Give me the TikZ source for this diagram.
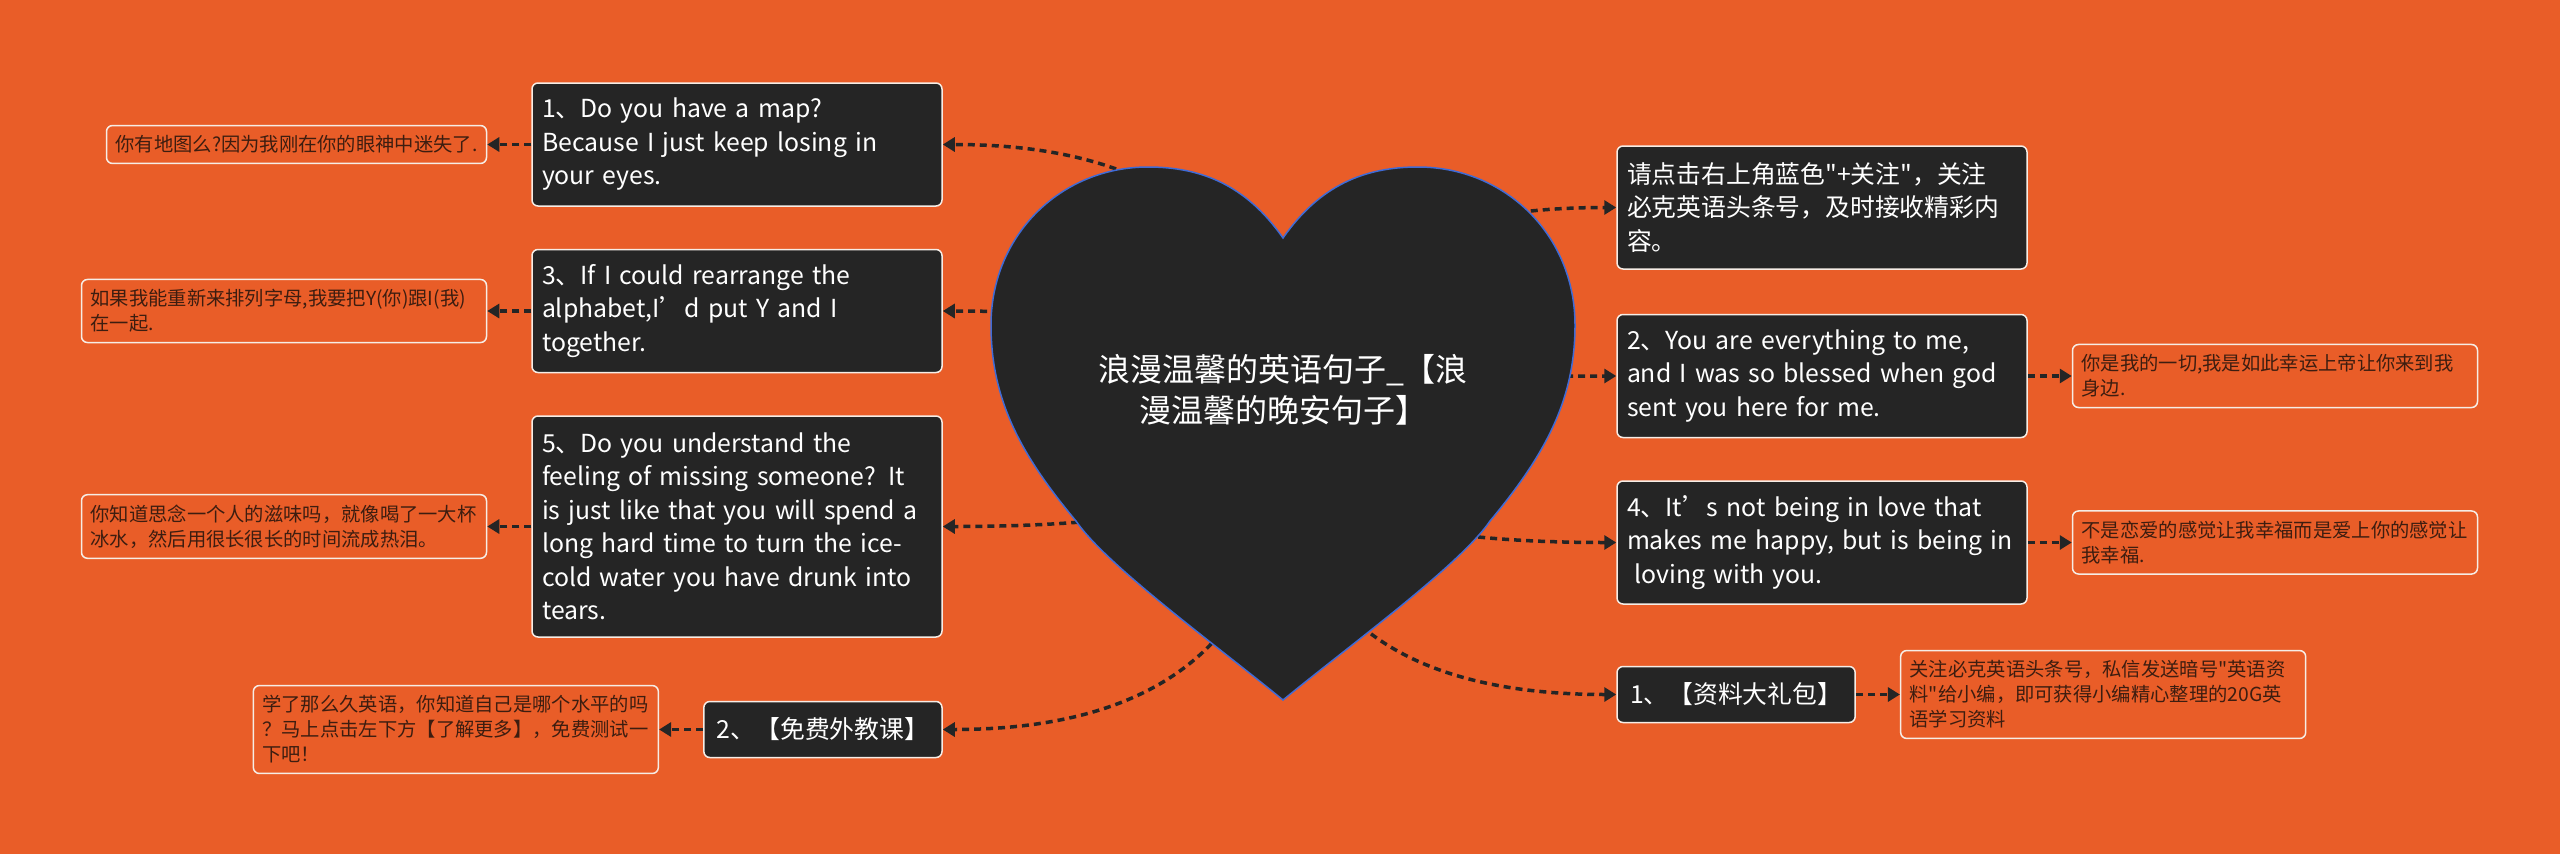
\documentclass[tikz,border=0pt]{standalone}
\usepackage{fontspec}
\setmainfont{Noto Sans CJK SC}
\usepackage{xcolor}
\definecolor{mindorange}{HTML}{E95D28}
\definecolor{mindink}{HTML}{252525}
\definecolor{mindrim}{HTML}{F6EDE6}
\definecolor{notebrown}{HTML}{3D1D10}
\definecolor{heartblue}{HTML}{3F6BD6}
\usetikzlibrary{positioning,arrows.meta,calc,backgrounds}

\begin{document}
\begin{tikzpicture}[
  x=1pt,y=-1pt,
  node distance=44pt,
  quote/.style ={rectangle,draw=mindrim,line width=1.5pt,rounded corners=6pt,
                 fill=mindink,text=white,text width=390pt,align=left,
                 inner xsep=10pt,inner ysep=8pt,minimum height=123pt,
                 font=\fontsize{24.8}{33.5}\selectfont},
  tag/.style   ={rectangle,draw=mindrim,line width=1.5pt,rounded corners=6pt,
                 fill=mindink,text=white,inner xsep=13pt,minimum height=56pt,
                 font=\fontsize{24.8}{33.5}\selectfont},
  note/.style  ={rectangle,draw=mindrim,line width=1.5pt,rounded corners=6pt,
                 fill=mindorange,text=notebrown,text width=387pt,align=left,
                 inner xsep=9pt,inner ysep=10pt,
                 font=\fontsize{19.3}{25}\selectfont},
  arr/.style   ={-{Triangle[length=12pt,width=14pt]},line width=3.5pt,
                 dash pattern=on 7pt off 5pt,mindink},
  branch/.style={to path={.. controls ($(\tikztostart)!2/3!(\tikztostart |- \tikztotarget)$)
                 and ($(\tikztotarget)!2/3!(\tikztostart |- \tikztotarget)$) .. (\tikztotarget)}}
]
\useasboundingbox (0,0) rectangle (2560,854);

\coordinate (hub) at (1283,433);
\node[text=white,align=center,font=\fontsize{32}{41}\selectfont] (title) at (1283,390)
  {浪漫温馨的英语句子\_【浪\\漫温馨的晚安句子】};

\node[quote] (q1) at (737,144.5) {1、Do you have a map?\\Because I just keep losing in\\your eyes.};
\node[quote,below=42pt of q1] (q3) {3、If I could rearrange the\\alphabet,I’d put Y and I\\together.};
\node[quote,below=42pt of q3,minimum height=221pt] (q5) {5、Do you understand the\\feeling of missing someone? It\\is just like that you will spend a\\long hard time to turn the ice-\\cold water you have drunk into\\tears.};
\node[tag,below left=63pt and 0pt of q5.south east] (free) {2、【免费外教课】};

\node[quote] (tip) at (1822,207.5) {请点击右上角蓝色\textquotedbl+关注\textquotedbl，关注\\必克英语头条号，及时接收精彩内\\容。};
\node[quote,below=44pt of tip] (q2) {2、You are everything to me,\\and I was so blessed when god\\sent you here for me.};
\node[quote,below=42pt of q2] (q4) {4、It’s not being in love that\\makes me happy, but is being in\\\hspace*{0.3em}loving with you.};
\node[tag,below right=61pt and 0pt of q4.south west] (gift) {1、【资料大礼包】};

\node[note,left=of q1,text width=362pt] (n1) {你有地图么?因为我刚在你的眼神中迷失了.};
\node[note,left=of q3] (n3) {如果我能重新来排列字母,我要把Y(你)跟I(我)\\在一起.};
\node[note,left=of q5] (n5) {你知道思念一个人的滋味吗，就像喝了一大杯\\冰水，然后用很长很长的时间流成热泪。};
\node[note,left=of free] (nfree) {学了那么久英语，你知道自己是哪个水平的吗\\？马上点击左下方【了解更多】，免费测试一\\下吧！};
\node[note,right=of q2] (n2) {你是我的一切,我是如此幸运上帝让你来到我\\身边.};
\node[note,right=of q4] (n4) {不是恋爱的感觉让我幸福而是爱上你的感觉让\\我幸福.};
\node[note,right=of gift] (ngift) {关注必克英语头条号，私信发送暗号\textquotedbl 英语资\\料\textquotedbl 给小编，即可获得小编精心整理的20G英\\语学习资料};

\draw[arr] (q1)   -- (n1);
\draw[arr] (q3)   -- (n3);
\draw[arr] (q5)   -- (n5);
\draw[arr] (free) -- (nfree);
\draw[arr] (q2)   -- (n2);
\draw[arr] (q4)   -- (n4);
\draw[arr] (gift) -- (ngift);

\begin{scope}[on background layer]
  \fill[mindorange] (0,0) rectangle (2560,854);
  \draw[arr] (hub) to[branch] (q1.east);
  \draw[arr] (hub) to[branch] (q3.east);
  \draw[arr] (hub) to[branch] (q5.east);
  \draw[arr] (hub) to[branch] (free.east);
  \draw[arr] (hub) to[branch] (tip.west);
  \draw[arr] (hub) to[branch] (q2.west);
  \draw[arr] (hub) to[branch] (q4.west);
  \draw[arr] (hub) to[branch] (gift.west);
  \draw[fill=mindink,draw=heartblue,line width=1.5pt] (1283,700)
    .. controls (1216,645) and (1106,565) .. (1076,521)
    .. controls (1021,455) and (991,400) .. (991,325)
    .. controls (991,235) and (1061,167) .. (1148,167)
    .. controls (1201,167) and (1246,185) .. (1283,238)
    .. controls (1320,185) and (1365,167) .. (1418,167)
    .. controls (1505,167) and (1575,235) .. (1575,325)
    .. controls (1575,400) and (1545,455) .. (1490,521)
    .. controls (1460,565) and (1350,645) .. cycle;
\end{scope}

\end{tikzpicture}
\end{document}
